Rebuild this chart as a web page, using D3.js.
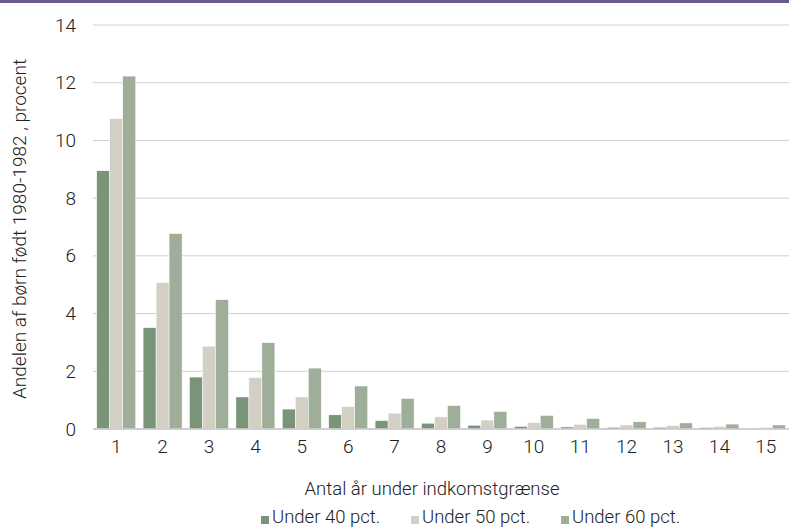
<!DOCTYPE html>
<html>
<head>
<meta charset="utf-8">
<script src="https://cdn.jsdelivr.net/npm/d3@7"></script>
<style>
  body { margin: 0; background: #fff; }
  text { font-family: Roboto, "Noto Sans", sans-serif; font-weight: 300; fill: #222; }
</style>
</head>
<body>
<div id="chart"></div>
<script>
// data
const years = ["1","2","3","4","5","6","7","8","9","10","11","12","13","14","15"]
const seriesNames = ["Under 40 pct.", "Under 50 pct.", "Under 60 pct."]
const under40 = [8.95, 3.51, 1.80, 1.11, 0.69, 0.49, 0.29, 0.20, 0.13, 0.09, 0.07, 0.06, 0.06, 0.05, 0.03]
const under50 = [10.75, 5.07, 2.87, 1.78, 1.11, 0.77, 0.55, 0.42, 0.31, 0.22, 0.16, 0.14, 0.12, 0.09, 0.06]
const under60 = [12.23, 6.77, 4.48, 2.99, 2.11, 1.49, 1.06, 0.81, 0.61, 0.47, 0.36, 0.25, 0.21, 0.17, 0.14]
const yTicks = [0, 2, 4, 6, 8, 10, 12, 14]
const colors = ["#7a9479", "#d3cfc4", "#9fae98"]

var W = 789, H = 527
var margin = {top: 25, right: 0, bottom: 98, left: 93}
var width = W - margin.left - margin.right,
    height = H - margin.top - margin.bottom
var fs = "19px"

var svg = d3.select("#chart").append("svg")
    .attr("width", W)
    .attr("height", H)

// purple strip on top
svg.append("rect")
    .attr("x", 0).attr("y", 0)
    .attr("width", W).attr("height", 3)
    .attr("fill", "#6a5a8e")

var g = svg.append("g")
    .attr("transform", "translate(" + margin.left + "," + margin.top + ")")

var x = d3.scaleBand().domain(years).range([0, width]).paddingInner(0.16).paddingOuter(0.08)
var xs = d3.scaleBand().domain(seriesNames).range([0, x.bandwidth()])
var y = d3.scaleLinear().domain([0, 14]).range([height, 0])

// gridlines
g.append("g")
    .selectAll("line")
    .data(yTicks)
    .join("line")
    .attr("x1", 0).attr("x2", width)
    .attr("y1", d => y(d)).attr("y2", d => y(d))
    .attr("stroke", "#d0d0d0")
    .attr("stroke-width", 1)

// y axis labels
var yAxis = g.append("g")
    .call(d3.axisLeft(y).tickValues(yTicks).tickSize(0).tickPadding(17))
yAxis.select(".domain").remove()
yAxis.selectAll("text").style("font-size", fs).style("fill", "#222")

var table = years.map((yr, i) => ({
    year: yr,
    values: [under40[i], under50[i], under60[i]]
}))

var groups = g.selectAll(".grp")
    .data(table)
    .join("g")
    .attr("class", "grp")
    .attr("transform", d => "translate(" + x(d.year) + ",0)")

groups.selectAll("rect")
    .data(d => d.values.map((v, j) => ({name: seriesNames[j], value: v, j: j})))
    .join("rect")
    .attr("x", d => xs(d.name))
    .attr("width", xs.bandwidth())
    .attr("y", d => y(d.value))
    .attr("height", d => y(0) - y(d.value))
    .attr("fill", d => colors[d.j])
    .attr("stroke", "#fff")
    .attr("stroke-width", 0.5)

// baseline
g.append("line")
    .attr("x1", 0).attr("x2", width)
    .attr("y1", y(0)).attr("y2", y(0))
    .attr("stroke", "#c8c8c8")
    .attr("stroke-width", 1.5)

// x axis labels
var xAxis = g.append("g")
    .attr("transform", "translate(0," + height + ")")
    .call(d3.axisBottom(x).tickSize(0).tickPadding(11))
xAxis.select(".domain").remove()
xAxis.selectAll("text").style("font-size", fs).style("fill", "#222")

// axis titles
svg.append("text")
    .attr("x", 432)
    .attr("y", 495)
    .attr("text-anchor", "middle")
    .style("font-size", "18.5px")
    .text("Antal år under indkomstgrænse")

svg.append("text")
    .attr("transform", "translate(26,229) rotate(-90)")
    .attr("text-anchor", "middle")
    .style("font-size", fs)
    .text("Andelen af børn født 1980-1982 , procent")

// legend
var legendX = [261, 411, 561]
var legend = svg.append("g")
    .selectAll("g")
    .data(seriesNames)
    .join("g")
    .attr("transform", (d, i) => "translate(" + legendX[i] + ",523)")
legend.append("rect")
    .attr("x", 0).attr("y", -7)
    .attr("width", 8).attr("height", 8)
    .attr("fill", (d, i) => colors[i])
legend.append("text")
    .attr("x", 11)
    .attr("y", 0)
    .style("font-size", "18.5px")
    .text(d => d)
</script>
</body>
</html>
